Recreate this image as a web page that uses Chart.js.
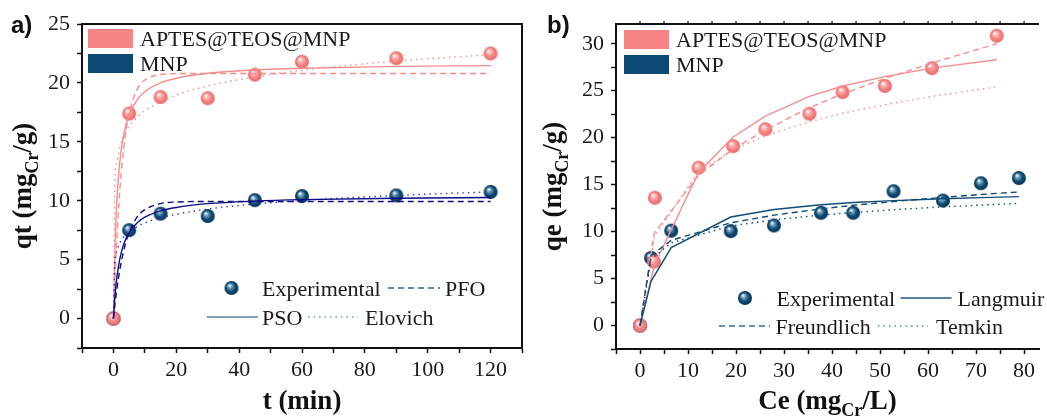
<!DOCTYPE html>
<html>
<head>
<meta charset="utf-8">
<script src="https://cdn.jsdelivr.net/npm/chart.js@4.4.1/dist/chart.umd.min.js"></script>
<style>
  html, body { margin: 0; padding: 0; background: #ffffff; }
  body { width: 1047px; height: 418px; position: relative; overflow: hidden; }
  canvas { position: absolute; top: 0; }
  #c1 { left: 0; }
  #c2 { left: 530px; }
</style>
</head>
<body>
<canvas id="c1" width="530" height="418"></canvas>
<canvas id="c2" width="517" height="418"></canvas>
<script>
// ---------------- Panel a) kinetics ----------------
const tExp        = [0, 5, 15, 30, 45, 60, 90, 120];
const qtAptesExp  = [0, 17.4, 18.8, 18.7, 20.7, 21.8, 22.1, 22.5];
const qtMnpExp    = [0, 7.5, 8.9, 8.7, 10.05, 10.4, 10.45, 10.75];

const tFit          = [0, 0.5, 1, 2, 3, 4, 5, 7.5, 10, 15, 20, 30, 45, 60, 90, 120];
const aptesPFO      = [0, 3.45, 6.33, 10.73, 13.78, 15.93, 17.41, 19.43, 20.25, 20.71, 20.79, 20.8, 20.8, 20.8, 20.8, 20.8];
const aptesPSO      = [0, 6.12, 9.55, 13.26, 15.24, 16.46, 17.3, 18.55, 19.25, 20.0, 20.4, 20.82, 21.1, 21.25, 21.4, 21.47];
const aptesElovich  = [0, 11.9, 13.2, 14.55, 15.3, 15.87, 16.3, 17.08, 17.64, 18.4, 18.97, 19.74, 20.5, 21.08, 21.85, 22.4];
const mnpPFO        = [0, 1.24, 2.32, 4.1, 5.45, 6.51, 7.3, 8.6, 9.24, 9.76, 9.89, 9.94, 9.94, 9.94, 9.94, 9.94];
const mnpPSO        = [0, 1.97, 3.31, 5.03, 6.08, 6.79, 7.3, 8.12, 8.6, 9.14, 9.43, 9.75, 9.97, 10.09, 10.21, 10.27];
const mnpElovich    = [0, 4.95, 5.68, 6.41, 6.85, 7.15, 7.39, 7.81, 8.12, 8.55, 8.85, 9.29, 9.72, 10.02, 10.45, 10.75];

const aXTicks  = [-10, 0, 10, 20, 30, 40, 50, 60, 70, 80, 90, 100, 110, 120, 130];
const aXLabels = [0, 20, 40, 60, 80, 100, 120];
const aYTicks  = [-2.5, 0, 2.5, 5, 7.5, 10, 12.5, 15, 17.5, 20, 22.5, 25];
const aYLabels = [0, 5, 10, 15, 20, 25];

// ---------------- Panel b) isotherms ----------------
const ceAptes         = [0, 2.9, 3.1, 12.2, 19.4, 26.1, 35.3, 42.2, 51.0, 60.8, 74.3];
const qeAptesExp      = [0, 6.8, 13.6, 16.8, 19.1, 20.9, 22.55, 24.85, 25.5, 27.4, 30.85];
const aptesLangmuir   = [0, 6.2, 6.56, 16.3, 20.07, 22.3, 24.4, 25.5, 26.5, 27.4, 28.3];
const aptesFreundlich = [0, 9.71, 9.94, 16.0, 18.8, 20.8, 23.2, 24.65, 26.3, 27.95, 30.0];
const aptesTemkin     = [0, 9.2, 9.55, 16.4, 18.7, 20.2, 21.7, 22.6, 23.5, 24.4, 25.4];

const ceMnp           = [0, 2.3, 6.5, 18.9, 27.9, 37.7, 44.4, 52.8, 63.1, 71.0, 78.9];
const qeMnpExp        = [0, 7.2, 10.1, 10.05, 10.65, 12.0, 12.0, 14.3, 13.3, 15.15, 15.7];
const mnpLangmuir     = [0, 4.7, 8.3, 11.55, 12.35, 12.85, 13.1, 13.3, 13.5, 13.62, 13.72];
const mnpFreundlich   = [0, 7.45, 9.07, 10.94, 11.75, 12.42, 12.8, 13.2, 13.64, 13.95, 14.22];
const mnpTemkin       = [0, 7.06, 8.8, 10.6, 11.25, 11.76, 12.03, 12.33, 12.63, 12.82, 13.0];

const bXTicks  = [-5, 0, 5, 10, 15, 20, 25, 30, 35, 40, 45, 50, 55, 60, 65, 70, 75, 80];
const bXLabels = [0, 10, 20, 30, 40, 50, 60, 70, 80];
const bYTicks  = [-2.5, 0, 2.5, 5, 7.5, 10, 12.5, 15, 17.5, 20, 22.5, 25, 27.5, 30];
const bYLabels = [0, 5, 10, 15, 20, 25, 30];

// ---------------- styling helpers ----------------
const PINK_LINE = '#f68d8d';
const NAVY = '#0b0b86';
const NAVY_DOT = '#3a3abc';
const TEAL = '#0f4c77';
const SERIF = '"Liberation Serif", "Times New Roman", serif';
const SANS = '"Liberation Sans", Arial, sans-serif';

function sphere(light, base, dark, r) {
  const s = 2 * r + 2;
  const c = document.createElement('canvas');
  c.width = s; c.height = s;
  const g = c.getContext('2d');
  const cx = s / 2, cy = s / 2;
  const grad = g.createRadialGradient(cx - r * 0.3, cy - r * 0.38, r * 0.05, cx, cy, r);
  grad.addColorStop(0, '#ffffff');
  grad.addColorStop(0.22, light);
  grad.addColorStop(0.62, base);
  grad.addColorStop(1, dark);
  g.fillStyle = grad;
  g.beginPath(); g.arc(cx, cy, r, 0, Math.PI * 2); g.fill();
  return c;
}
const PINK_BALL = sphere('#fcc0c0', '#f58282', '#e56a6a', 7);
const BLUE_BALL = sphere('#7ea9c6', '#0e4c74', '#063454', 7);

const pts = (xs, ys) => xs.map((x, i) => ({ x: x, y: ys[i] }));

function expSet(xs, ys, ball, order) {
  return { data: pts(xs, ys), pointStyle: ball, pointRadius: 7, showLine: false, order: order };
}
function fitSet(xs, ys, color, dash, order, smooth) {
  return {
    data: pts(xs, ys), showLine: true, pointRadius: 0, borderColor: color, borderWidth: 1.4,
    borderDash: dash, order: order, fill: false,
    cubicInterpolationMode: smooth ? 'monotone' : 'default', tension: 0
  };
}

function axis(ticks, labels, min, max, fitSize, horizontal) {
  return {
    type: 'linear', min: min, max: max,
    afterBuildTicks: (s) => { s.ticks = ticks.map(v => ({ value: v })); },
    afterFit: (s) => { if (horizontal) s.height = fitSize; else s.width = fitSize; },
    border: { display: true, color: '#111', width: 2 },
    grid: { display: true, drawOnChartArea: false, drawTicks: true, tickLength: 5, tickColor: '#111', tickWidth: 1.5 },
    ticks: {
      autoSkip: false, maxRotation: 0, minRotation: 0, padding: horizontal ? 4 : 7,
      color: '#1a1a1a', font: { family: SERIF, size: 22 },
      callback: (v) => labels.includes(v) ? String(v) : ''
    }
  };
}

function drawRich(ctx, parts, x, y, align, size, subSize) {
  let w = 0;
  parts.forEach(p => { ctx.font = 'bold ' + (p.sub ? subSize : size) + 'px ' + SERIF; w += ctx.measureText(p.t).width; });
  let cx = align === 'center' ? x - w / 2 : x;
  ctx.textAlign = 'left'; ctx.textBaseline = 'alphabetic';
  parts.forEach(p => {
    ctx.font = 'bold ' + (p.sub ? subSize : size) + 'px ' + SERIF;
    ctx.fillText(p.t, cx, y + (p.sub ? 7 : 0));
    cx += ctx.measureText(p.t).width;
  });
}

function legendLine(ctx, x1, x2, y, color, dash) {
  ctx.save(); ctx.strokeStyle = color; ctx.lineWidth = 1.6; ctx.setLineDash(dash);
  ctx.beginPath(); ctx.moveTo(x1, y); ctx.lineTo(x2, y); ctx.stroke(); ctx.restore();
}
function legendText(ctx, t, x, y) {
  ctx.save(); ctx.fillStyle = '#1a1a1a'; ctx.font = '22px ' + SERIF;
  ctx.textAlign = 'left'; ctx.textBaseline = 'alphabetic'; ctx.fillText(t, x, y); ctx.restore();
}

function decorPlugin(cfg) {
  return {
    id: 'decor',
    afterDraw(chart) {
      const ctx = chart.ctx, a = chart.chartArea;
      ctx.save();
      // frame
      ctx.strokeStyle = '#111'; ctx.lineWidth = 2;
      ctx.beginPath(); ctx.moveTo(a.left - 1, a.top); ctx.lineTo(a.right, a.top);
      if (cfg.rightBorder) ctx.lineTo(a.right, a.bottom);
      ctx.stroke();
      if (cfg.topTicks) {
        const xs = chart.scales.x; ctx.lineWidth = 1.2; ctx.beginPath();
        cfg.topTicks.forEach(v => { const px = xs.getPixelForValue(v); if (px > a.left + 1 && px < a.right - 1) { ctx.moveTo(px, a.top); ctx.lineTo(px, a.top - 3); } });
        ctx.stroke();
      }
      ctx.fillStyle = '#111';
      // panel label
      ctx.font = 'bold 24px ' + SANS; ctx.textAlign = 'left'; ctx.textBaseline = 'alphabetic';
      ctx.fillText(cfg.panel, cfg.panelX, 33);
      // x title
      drawRich(ctx, cfg.xTitle, (a.left + a.right) / 2, 409, 'center', 27, 18);
      // y title
      ctx.save(); ctx.translate(31, (a.top + a.bottom) / 2); ctx.rotate(-Math.PI / 2);
      drawRich(ctx, cfg.yTitle, 0, 0, 'center', 27, 18);
      ctx.restore();
      // top legend swatches
      const sw = cfg.swatch;
      ctx.fillStyle = '#f88585'; ctx.fillRect(sw.x, sw.y1, 45, 19);
      ctx.fillStyle = '#0b4a72'; ctx.fillRect(sw.x, sw.y2, 45, 19);
      legendText(ctx, 'APTES@TEOS@MNP', sw.x + 52, sw.y1 + 17);
      legendText(ctx, 'MNP', sw.x + 52, sw.y2 + 17);
      // bottom legend
      cfg.legend.forEach(e => {
        if (e.ball) ctx.drawImage(BLUE_BALL, e.bx - BLUE_BALL.width / 2, e.by - BLUE_BALL.height / 2);
        else legendLine(ctx, e.x1, e.x2, e.ly, e.color, e.dash);
        legendText(ctx, e.text, e.tx, e.ty);
      });
      ctx.restore();
    }
  };
}

// ---------------- Chart a) ----------------
new Chart(document.getElementById('c1'), {
  type: 'scatter',
  data: {
    datasets: [
      fitSet(tFit, mnpPSO, NAVY, [], 1, true),
      fitSet(tFit, mnpPFO, NAVY, [6, 4], 2, true),
      fitSet(tFit, mnpElovich, NAVY_DOT, [1.5, 4], 3, true),
      fitSet(tFit, aptesPSO, PINK_LINE, [], 4, true),
      fitSet(tFit, aptesPFO, PINK_LINE, [6, 4], 5, true),
      fitSet(tFit, aptesElovich, PINK_LINE, [1.5, 4], 6, true),
      expSet(tExp, qtAptesExp, PINK_BALL, 7),
      expSet(tExp, qtMnpExp, BLUE_BALL, 8)
    ]
  },
  options: {
    responsive: false, animation: false, devicePixelRatio: 1,
    layout: { padding: { top: 24, right: 7, left: 0, bottom: 0 } },
    plugins: { legend: { display: false }, tooltip: { enabled: false } },
    scales: {
      x: axis(aXTicks, aXLabels, -10, 130, 70, true),
      y: axis(aYTicks, aYLabels, -2.5, 25, 82, false)
    }
  },
  plugins: [decorPlugin({
    panel: 'a)', panelX: 11, rightBorder: true,
    xTitle: [{ t: 't (min)' }],
    yTitle: [{ t: 'qt (mg' }, { t: 'Cr', sub: true }, { t: '/g)' }],
    swatch: { x: 88, y1: 29, y2: 54 },
    legend: [
      { ball: true, bx: 231.5, by: 288, text: 'Experimental', tx: 262, ty: 296 },
      { x1: 388, x2: 440, ly: 288, color: '#2d6594', dash: [6, 4], text: 'PFO', tx: 445, ty: 296 },
      { x1: 207, x2: 258, ly: 317, color: '#5585a8', dash: [], text: 'PSO', tx: 262, ty: 325 },
      { x1: 308, x2: 358, ly: 317, color: '#6b9fc6', dash: [1.5, 4], text: 'Elovich', tx: 365, ty: 325 }
    ]
  })]
});

// ---------------- Chart b) ----------------
new Chart(document.getElementById('c2'), {
  type: 'scatter',
  data: {
    datasets: [
      fitSet(ceMnp, mnpLangmuir, TEAL, [], 1, false),
      fitSet(ceMnp, mnpFreundlich, TEAL, [6, 4], 2, false),
      fitSet(ceMnp, mnpTemkin, TEAL, [1.5, 4], 3, false),
      fitSet(ceAptes, aptesLangmuir, PINK_LINE, [], 4, false),
      fitSet(ceAptes, aptesFreundlich, PINK_LINE, [6, 4], 5, false),
      fitSet(ceAptes, aptesTemkin, PINK_LINE, [1.5, 4], 6, false),
      expSet(ceAptes, qeAptesExp, PINK_BALL, 7),
      expSet(ceMnp, qeMnpExp, BLUE_BALL, 8)
    ]
  },
  options: {
    responsive: false, animation: false, devicePixelRatio: 1,
    layout: { padding: { top: 24, right: 0, left: 0, bottom: 0 } },
    plugins: { legend: { display: false }, tooltip: { enabled: false } },
    scales: {
      x: axis(bXTicks, bXLabels, -5, 83.1, 69, true),
      y: axis(bYTicks, bYLabels, -2.5, 32.1, 86, false)
    }
  },
  plugins: [decorPlugin({
    panel: 'b)', panelX: 17, rightBorder: false, topTicks: bXTicks,
    xTitle: [{ t: 'Ce (mg' }, { t: 'Cr', sub: true }, { t: '/L)' }],
    yTitle: [{ t: 'qe (mg' }, { t: 'Cr', sub: true }, { t: '/g)' }],
    swatch: { x: 94, y1: 30, y2: 55 },
    legend: [
      { ball: true, bx: 215, by: 298, text: 'Experimental', tx: 246.5, ty: 306 },
      { x1: 370.5, x2: 421.5, ly: 298, color: '#1d5a86', dash: [], text: 'Langmuir', tx: 427.5, ty: 306 },
      { x1: 189, x2: 240, ly: 326, color: '#2f6b9a', dash: [6, 4], text: 'Freundlich', tx: 245.5, ty: 334 },
      { x1: 348, x2: 398, ly: 326, color: '#4f88b5', dash: [1.5, 4], text: 'Temkin', tx: 406, ty: 334 }
    ]
  })]
});
</script>
</body>
</html>
